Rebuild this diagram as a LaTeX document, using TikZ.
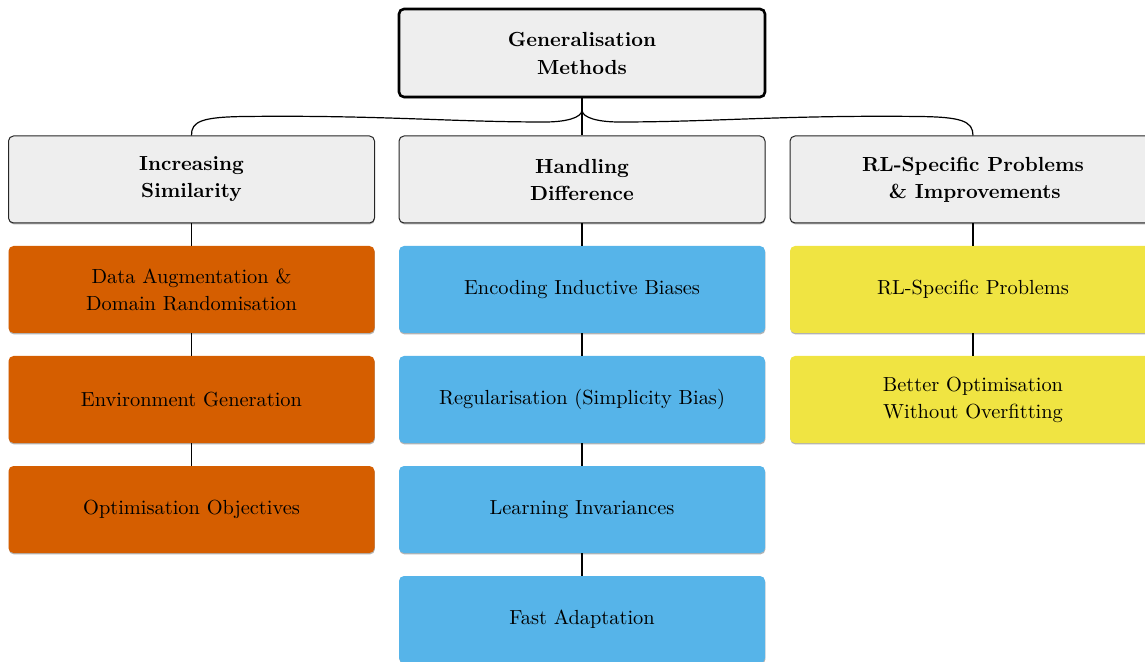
\documentclass[tikz,border=0pt]{standalone}
\usetikzlibrary{shadows}
\definecolor{boxgray}{HTML}{EEEEEE}
\definecolor{okorange}{HTML}{D55E00}
\definecolor{okblue}{HTML}{56B4E9}
\definecolor{okyellow}{HTML}{F0E442}
\tikzset{
  basebox/.style={rectangle, rounded corners=2.5pt, minimum width=183pt, minimum height=43.5pt,
    inner sep=0pt, align=center, font=\fontsize{10.2}{13.5}\selectfont,
    drop shadow={shadow xshift=0.2pt, shadow yshift=-0.7pt, opacity=0.3, fill=black}},
  rootbox/.style={basebox, draw=black, line width=1.3pt, fill=boxgray, minimum height=44pt, font=\bfseries\fontsize{10.2}{14}\selectfont},
  catbox/.style={basebox, draw=black!85, line width=0.5pt, fill=boxgray, font=\bfseries\fontsize{10.2}{13.5}\selectfont},
  orangebox/.style={basebox, fill=okorange},
  bluebox/.style={basebox, fill=okblue},
  yellowbox/.style={basebox, fill=okyellow},
  link/.style={draw=black, line width=0.6pt},
}
\begin{document}
\begin{tikzpicture}[x=0.5pt,y=-0.5pt]
\useasboundingbox (0,0) rectangle (1145,662);
\clip (0,0) rectangle (1145,662);
% root
\node[rootbox] (root) at (582,53) {Generalisation\\Methods};
% level 1
\node[catbox] (sim) at (191.5,179.5) {Increasing\\Similarity};
\node[catbox] (diff) at (582,179.5) {Handling\\Difference};
\node[catbox] (rl) at (973,179.5) {RL-Specific Problems\\\,\& Improvements};
% level 2 - left
\node[orangebox] (da) at (191.5,289.5) {Data Augmentation \&\\Domain Randomisation};
\node[orangebox] (eg) at (191.5,399.5) {Environment Generation};
\node[orangebox] (oo) at (191.5,509.5) {Optimisation Objectives};
% level 2 - middle
\node[bluebox] (eib) at (582,289.5) {Encoding Inductive Biases};
\node[bluebox] (reg) at (582,399.5) {Regularisation (Simplicity Bias)};
\node[bluebox] (li) at (582,509.5) {Learning Invariances};
\node[bluebox] (fa) at (582,619.5) {Fast Adaptation};
% level 2 - right
\node[yellowbox] (rlp) at (973,289.5) {RL-Specific Problems};
\node[yellowbox] (bo) at (973,399.5) {Better Optimisation\\Without Overfitting};
% brace
\coordinate (tip) at (582,110);
\draw[link] (sim.north) .. controls (191,121) and (203,117) .. (245,116.5)
  .. controls (380,115) and (450,122) .. (545,122)
  .. controls (565,122) and (582,118) .. (tip)
  .. controls (582,118) and (599,122) .. (619,122)
  .. controls (714,122) and (784,115) .. (919,116.5)
  .. controls (961,117) and (973,121) .. (rl.north);
\draw[link] (root.south) -- (diff.north);
% vertical links
\draw[link] (sim.south) -- (da.north);
\draw[link] (da.south) -- (eg.north);
\draw[link] (eg.south) -- (oo.north);
\draw[link] (diff.south) -- (eib.north);
\draw[link] (eib.south) -- (reg.north);
\draw[link] (reg.south) -- (li.north);
\draw[link] (li.south) -- (fa.north);
\draw[link] (rl.south) -- (rlp.north);
\draw[link] (rlp.south) -- (bo.north);
\end{tikzpicture}
\end{document}
